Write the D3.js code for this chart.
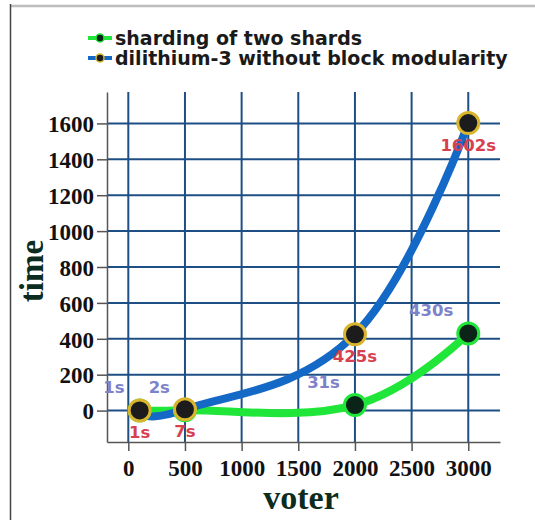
<!DOCTYPE html>
<html><head><meta charset="utf-8">
<script src="https://cdn.jsdelivr.net/npm/d3@7"></script>
<style>html,body{margin:0;padding:0;background:#fff;} svg{display:block}</style>
</head><body><svg id="c" width="535" height="520"></svg>
<script>
// ---- data ----
const voters = [100, 500, 2000, 3000];
const seriesNames = ["sharding of two shards", "dilithium-3 without block modularity"];
const shardingTimes = [1, 2, 31, 430];
const dilithiumTimes = [1, 7, 425, 1602];
const shardingLabels = ["1s", "2s", "31s", "430s"];
const dilithiumLabels = ["1s", "7s", "425s", "1602s"];
const xTickValues = [0, 500, 1000, 1500, 2000, 2500, 3000];
const yTickValues = [0, 200, 400, 600, 800, 1000, 1200, 1400, 1600];
const xTitle = "voter";
const yTitle = "time";

(function () {
// ---- styles ----
const GREEN = "#20e63a", GREEN_FILL = "#0b2418";
const BLUE = "#1468c6", GOLD = "#d8b52c", DARK = "#1c1c1c";
const GRID = "#1d4f85";
const PURPLE = "#7d82c9", RED = "#d7414f";
const TITLE = "#0c2c20";

const svg = d3.select("#c");
const pLeft = 107, pRight = 500, pTop = 92, pBottom = 442;
const x = d3.scaleLinear().domain([-188, 3280]).range([pLeft, pRight]);
const y = d3.scaleLinear().domain([-175, 1775]).range([pBottom, pTop]);

// frame
svg.append("line").attr("x1", 10).attr("x2", 535).attr("y1", 6).attr("y2", 6)
  .attr("stroke", "#bdbdbd").attr("stroke-width", 2.5);
svg.append("line").attr("x1", 10.5).attr("x2", 10.5).attr("y1", 4).attr("y2", 520)
  .attr("stroke", "#444").attr("stroke-width", 1.5);

// grid
const g = svg.append("g");
g.selectAll(".vg").data(xTickValues).join("line")
  .attr("x1", d => x(d)).attr("x2", d => x(d)).attr("y1", pTop).attr("y2", pBottom)
  .attr("stroke", GRID).attr("stroke-width", 2);
g.selectAll(".hg").data(yTickValues).join("line")
  .attr("x1", pLeft).attr("x2", pRight).attr("y1", d => y(d)).attr("y2", d => y(d))
  .attr("stroke", GRID).attr("stroke-width", 2);

// axes
const fmt = d3.format("d");
const xAxis = d3.axisBottom(x).tickValues(xTickValues).tickFormat(fmt).tickSize(9).tickSizeOuter(0).tickPadding(9);
const yAxis = d3.axisLeft(y).tickValues(yTickValues).tickFormat(fmt).tickSize(10).tickSizeOuter(0).tickPadding(3);
const gx = svg.append("g").attr("transform", `translate(0,${pBottom})`).call(xAxis);
const gy = svg.append("g").attr("transform", `translate(${pLeft},0)`).call(yAxis);
[gx, gy].forEach(a => {
  a.select(".domain").attr("stroke", "#555").attr("stroke-width", 1.5);
  a.selectAll(".tick line").attr("stroke", "#555").attr("stroke-width", 1.5);
  a.selectAll(".tick text").attr("fill", "#111")
    .style("font-family", "'Liberation Serif', 'Times New Roman', serif")
    .style("font-weight", "bold").style("font-size", "23px");
});
gy.selectAll(".tick text").attr("dy", "0.36em");

// axis titles
svg.append("text").text(xTitle).attr("x", 301).attr("y", 509)
  .attr("text-anchor", "middle").attr("fill", TITLE)
  .style("font-family", "'Liberation Serif', serif").style("font-weight", "bold").style("font-size", "34px");
svg.append("text").text(yTitle).attr("transform", "translate(43,271) rotate(-90)")
  .attr("text-anchor", "middle").attr("fill", TITLE)
  .style("font-family", "'Liberation Serif', serif").style("font-weight", "bold").style("font-size", "33px");

// lines
const line = d3.line().x(d => x(d[0])).y(d => y(d[1])).curve(d3.curveCardinal.tension(-0.2));
const blueData = voters.map((v, i) => [v, dilithiumTimes[i]]);
const greenData = voters.map((v, i) => [v, shardingTimes[i]]);
svg.append("path").attr("d", line(greenData)).attr("fill", "none")
  .attr("stroke", GREEN).attr("stroke-width", 8).attr("stroke-linecap", "round");
svg.append("path").attr("d", line(blueData)).attr("fill", "none")
  .attr("stroke", BLUE).attr("stroke-width", 8).attr("stroke-linecap", "round");

// markers
svg.selectAll(".gm").data(greenData).join("circle")
  .attr("cx", d => x(d[0])).attr("cy", d => y(d[1])).attr("r", 10.5)
  .attr("fill", GREEN_FILL).attr("stroke", GREEN).attr("stroke-width", 3);
svg.selectAll(".bm").data(blueData).join("circle")
  .attr("cx", d => x(d[0])).attr("cy", d => y(d[1])).attr("r", 10.5)
  .attr("fill", DARK).attr("stroke", GOLD).attr("stroke-width", 3);

// labels
const lblFont = "'DejaVu Sans', Verdana, sans-serif";
svg.selectAll(".gl").data(greenData).join("text")
  .text((d, i) => shardingLabels[i])
  .attr("x", d => x(d[0]) - 15).attr("y", d => y(d[1]) - 17)
  .attr("text-anchor", "end").attr("fill", PURPLE)
  .style("font-family", lblFont).style("font-weight", "bold").style("font-size", "16.5px");
svg.selectAll(".bl").data(blueData).join("text")
  .text((d, i) => dilithiumLabels[i])
  .attr("x", d => x(d[0])).attr("y", d => y(d[1]) + 28)
  .attr("text-anchor", "middle").attr("fill", RED)
  .style("font-family", lblFont).style("font-weight", "bold").style("font-size", "16.5px");

// legend
const legColors = [[GREEN, GREEN_FILL, GREEN], [BLUE, DARK, GOLD]];
const leg = svg.append("g");
seriesNames.forEach((name, i) => {
  const cy = 38 + i * 20;
  const c = legColors[i];
  leg.append("line").attr("x1", 88).attr("x2", 112).attr("y1", cy).attr("y2", cy)
    .attr("stroke", c[0]).attr("stroke-width", 4);
  leg.append("circle").attr("cx", 100).attr("cy", cy).attr("r", 4)
    .attr("fill", c[1]).attr("stroke", c[2]).attr("stroke-width", 1.5);
  leg.append("text").text(name).attr("x", 115).attr("y", cy + 6.5)
    .attr("fill", "#1a1a1a")
    .style("font-family", lblFont).style("font-weight", "bold").style("font-size", "19px");
});
})();
</script></body></html>
